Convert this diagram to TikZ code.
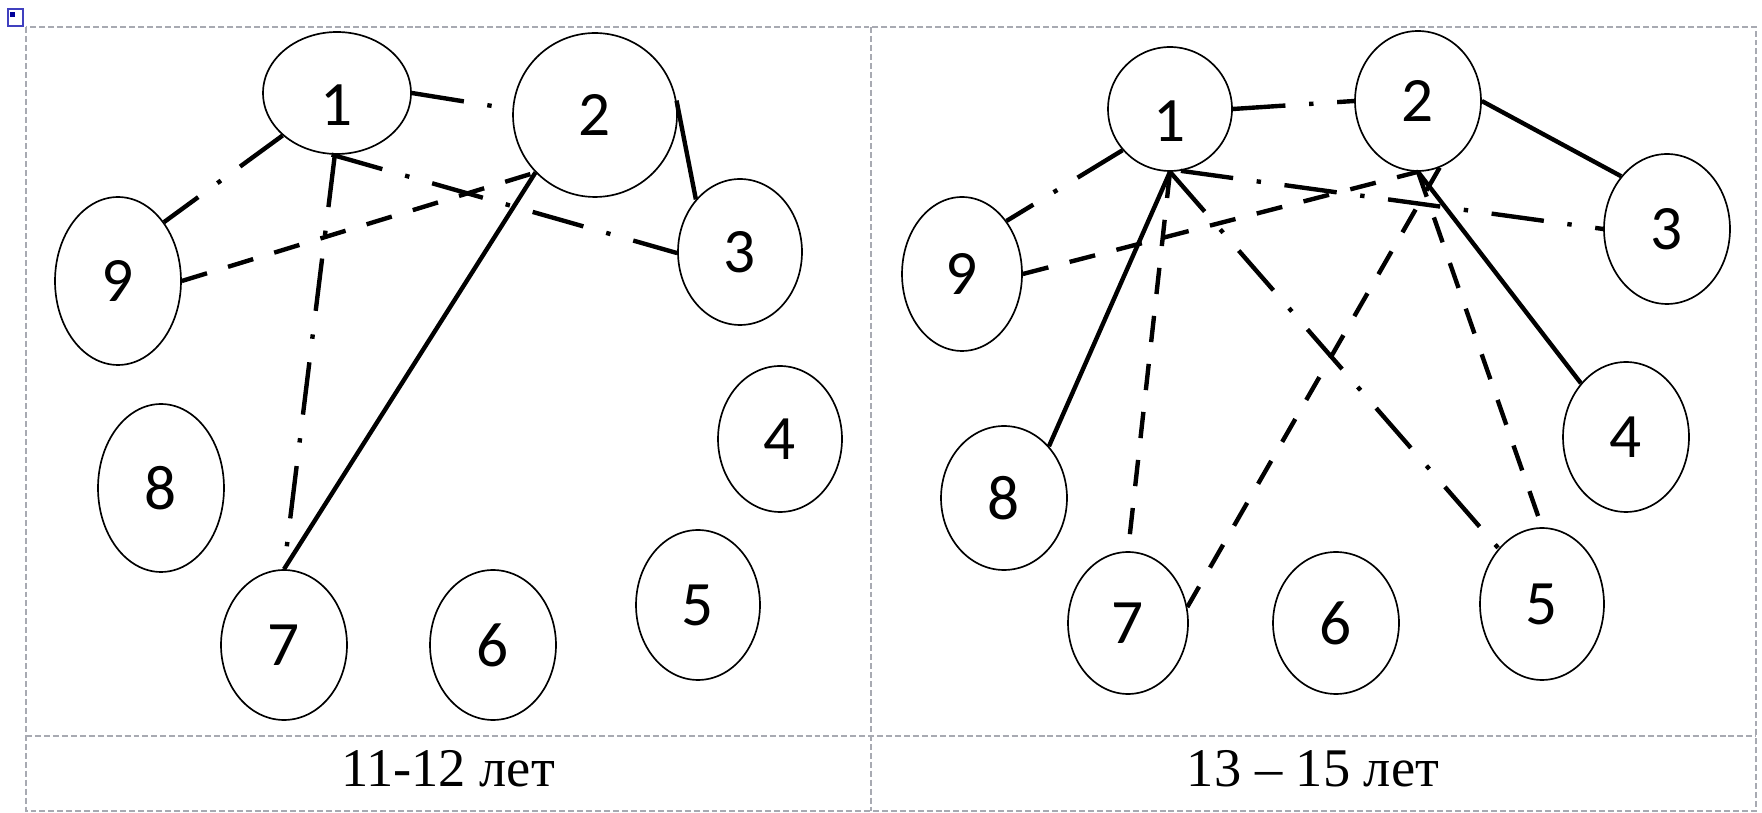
\documentclass[tikz,border=0pt]{standalone}
\usepackage{fontspec}
\setmainfont{Liberation Serif}
\newfontfamily\numfont{Carlito}
\usepackage{tikz}
\usetikzlibrary{shapes.geometric}
\definecolor{cellgray}{HTML}{A8AAB2}

\begin{document}
\begin{tikzpicture}[x=0.02cm,y=-0.02cm,
  pers/.style={draw,ellipse,line width=0.95pt,inner sep=0pt,font={\numfont\fontsize{36}{42}\selectfont}},
  low/.style={text height=37.5pt,text depth=0pt},
  mid/.style={},
  tie/.style={line width=2.5pt},
  tiedash/.style={line width=2.5pt,dash pattern=on 15pt off 12.5pt},
  tiedot/.style={line width=2.5pt,dash pattern=on 30pt off 13.5pt on 2.5pt off 13.5pt},
  cellline/.style={cellgray,line width=1.1pt,dash pattern=on 3.4pt off 1.7pt}]
\useasboundingbox (0,0) rectangle (1762,813);
% table
\draw[cellline] (26,27) rectangle (1756,811);
\draw[cellline] (871,27) -- (871,811);
\draw[cellline] (26,736) -- (1756,736);
\draw[blue!50!gray,line width=0.6pt] (8,9) rectangle (23,26);
\fill[blue!60!black] (10,12) rectangle (15,17);
% 11-12
\foreach \n/\x/\y/\w/\h/\o in {1/337/93/2.96/2.44/low, 2/595/115/3.28/3.28/mid, 3/740/252/2.48/2.92/mid,
  4/780/439/2.48/2.92/mid, 5/698/605/2.48/3.0/mid, 6/493/645/2.52/3.0/mid,
  7/284/645/2.52/3.0/mid, 8/161/488/2.52/3.36/mid, 9/118/281/2.52/3.36/mid}
  \node[pers,minimum width=\w cm,minimum height=\h cm,\o] (a\n) at (\x,\y) {\n};
\draw[tiedot] (a1.east) -- (a2.176);
\draw[tie] (a2.10) -- (a3.130);
\draw[tiedot] (a1.218) -- (a9.52);
\draw[tiedot] (a1.265) -- (a3.181);
\draw[tiedot] (a1.268) -- (a7.north);
\draw[tiedash] (a9.east) -- (a2.224);
\draw[tie] (a7.north) -- (a2.224);
% 13-15
\foreach \n/\x/\y/\w/\h/\o in {1/1170/109/2.48/2.48/low, 2/1418/101/2.52/2.8/mid, 3/1667/229/2.52/3.0/mid,
  4/1626/437/2.52/3.0/mid, 5/1542/604/2.48/3.04/mid, 6/1336/623/2.52/2.84/mid,
  7/1128/623/2.4/2.84/mid, 8/1004/498/2.52/2.88/mid, 9/962/274/2.4/3.08/mid}
  \node[pers,minimum width=\w cm,minimum height=\h cm,\o] (b\n) at (\x,\y) {\n};
\draw[tiedot] (b1.east) -- (b2.west);
\draw[tie] (b2.east) -- (b3.131);
\draw[tiedot] (b1.221) -- (b9.50);
\draw[tiedot] (b1.280) -- (b3.west);
\draw[tie] (b1.south) -- (b8.49);
\draw[tiedash] (b1.south) -- (b7.north);
\draw[tiedot] (b1.south) -- (b5.128);
\draw[tie] (b2.south) -- (b4.130);
\draw[tiedash] (b2.south) -- (b5.north);
\draw[tiedash] (b2.288) -- (b7.15);
\draw[tiedash] (b9.east) -- (b2.south);
% captions
\node[font=\fontsize{31}{36}\selectfont] (capL) at (448,769) {11-12 лет};
\node[font=\fontsize{31}{36}\selectfont] (capR) at (1313,769) {13 – 15 лет};
\end{tikzpicture}
\end{document}
